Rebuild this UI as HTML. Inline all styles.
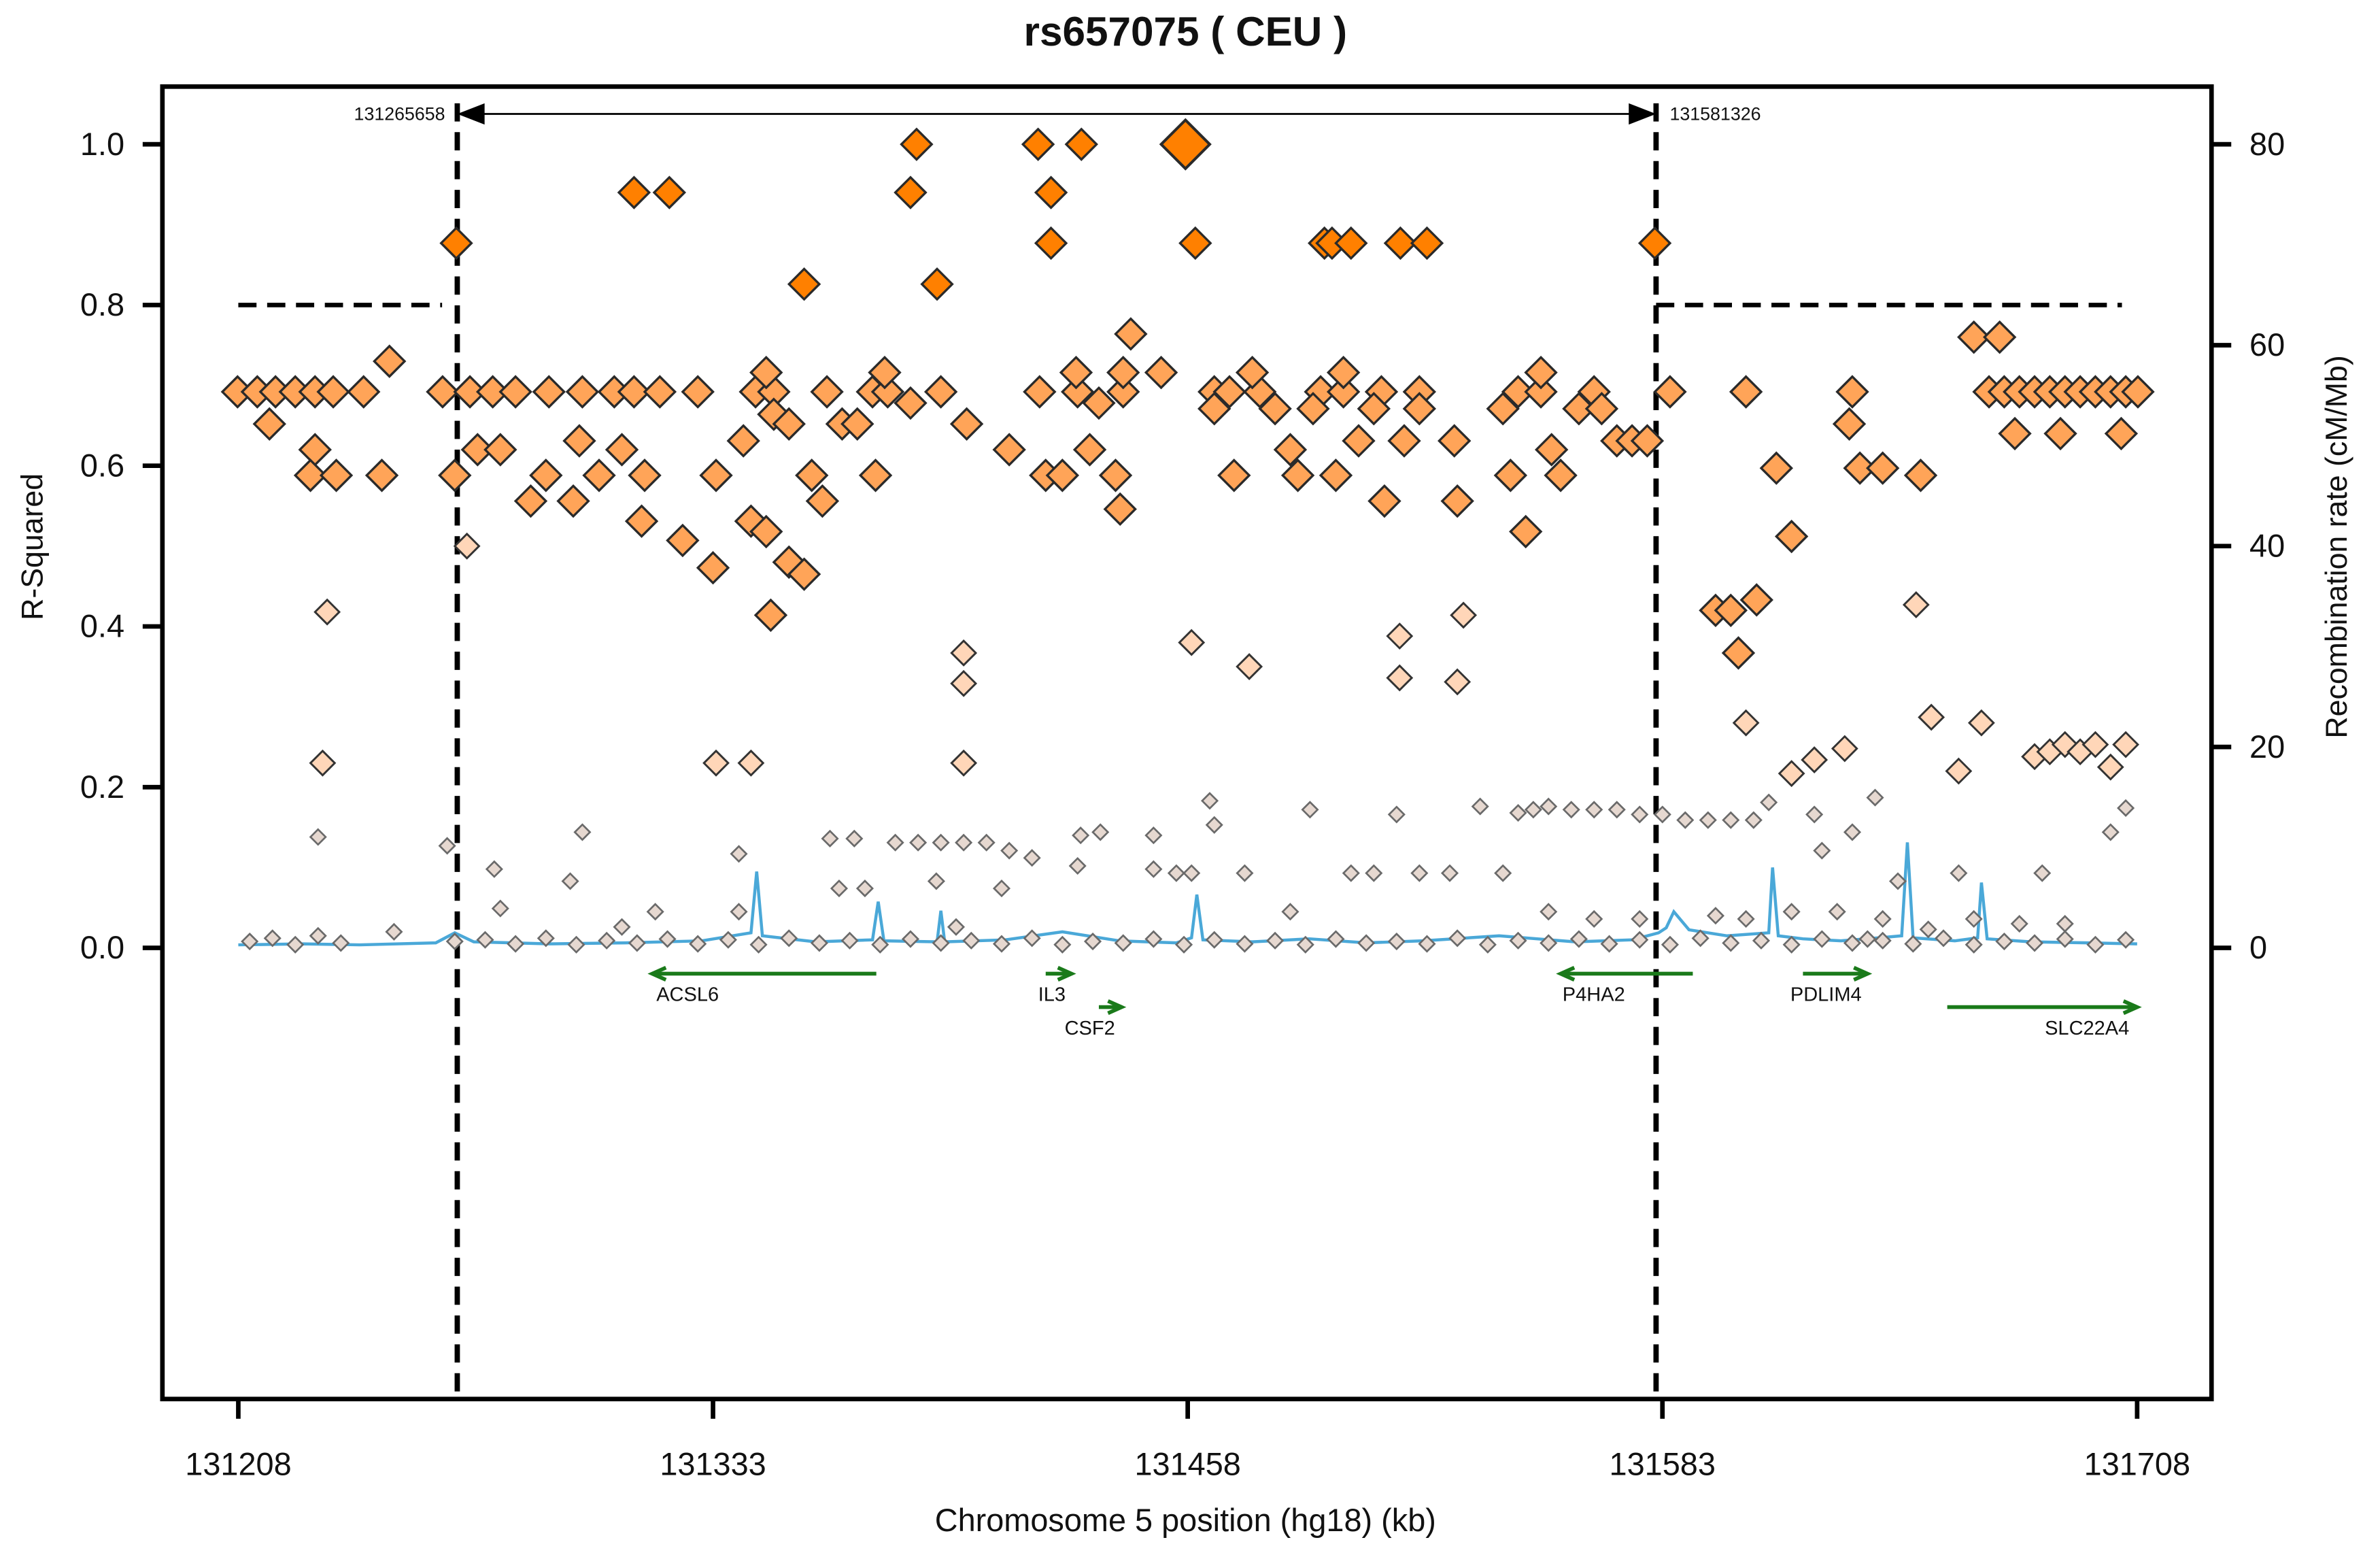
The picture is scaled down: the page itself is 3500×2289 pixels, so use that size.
<!DOCTYPE html>
<html><head><meta charset="utf-8">
<style>
html,body{margin:0;padding:0;background:#fff;}
svg{display:block;}
text{font-family:"Liberation Sans",sans-serif;fill:#111;}
</style></head>
<body>
<svg id="chart" width="3500" height="2289" viewBox="0 0 1568 1025" preserveAspectRatio="none" xmlns="http://www.w3.org/2000/svg">
<text x="781" y="30" font-size="27" font-weight="bold" text-anchor="middle">rs657075 ( CEU )</text>
<rect x="107" y="57" width="1350" height="864" fill="none" stroke="#000" stroke-width="3"/>
<g id="axes"></g>
<g id="recomb"></g>
<g id="points"></g>
<g id="genes"></g>
<text transform="translate(28,360) rotate(-90)" font-size="20" text-anchor="middle">R-Squared</text>
<text transform="translate(1546,360) rotate(-90)" font-size="20" text-anchor="middle">Recombination rate (cM/Mb)</text>
<text x="781" y="1008" font-size="21" text-anchor="middle">Chromosome 5 position (hg18) (kb)</text>
</svg>
<script>
// ---- data ----
const xTicks = [131208, 131333, 131458, 131583, 131708];
const yTicks = [0.0, 0.2, 0.4, 0.6, 0.8, 1.0];
const y2Ticks = [0, 20, 40, 60, 80];
const boundLeft = 131265.658, boundRight = 131581.326;
const hiKb = [131265.4,131312.2,131321.5,131386.6,131385,131392,131357,131418.6,131430,131422,131422,131460,131494,131496,131501,131514,131521,131581];
const hiR  = [0.877,0.94,0.94,1.0,0.94,0.826,0.826,1.0,1.0,0.94,0.877,0.877,0.877,0.877,0.877,0.877,0.877,0.877];
const leadKb = [131457.4];
const leadR = [1.0];
const midKb = [131207.8,131213,131217.8,131223,131228.2,131233,131241,131261.8,131269,131275,131281,131289.8,131298.6,131307,131312.2,131319,131329,131344.2,131349,131363,131375,131379,131393,131419,131429,131441,131465,131469,131477,131493,131499,131509,131519,131545,131551,131565,131585,131605,131633,131669,131673,131677,131681,131685,131689,131693,131697,131701,131705,131708.2,
 131216.2,131247.8,131228.2,131227,131233.8,131245.8,131265,131271,131277,131285,131289,131296.2,131297.8,131303,131309,131315,131314.2,131325,131333,131341,131333.8,131347,131349,131353,131343,131347,131353,131357,131348.2,131359,131361.8,131367,131371,131375.8,131378.2,131385,131399.8,131411,131420.6,131425,131428.6,131432.2,131434.6,131439,131440.2,131441,131443,131451,131465,131470.2,131475,131481,131485,131487,131491,131497,131499,131503,131507,131509.8,131515,131519,131528.2,131529,131541,131543,131547,131551,131553.8,131556.2,131561,131567,131571,131575,131579,131597,131601,131607.8,131603,131613,131617,131632.2,131635,131641,131651,131665,131671.8,131675.8,131687.8,131703.8];
const midR = [0.692,0.692,0.692,0.692,0.692,0.692,0.692,0.692,0.692,0.692,0.692,0.692,0.692,0.692,0.692,0.692,0.692,0.692,0.692,0.692,0.692,0.692,0.692,0.692,0.692,0.692,0.692,0.692,0.692,0.692,0.692,0.692,0.692,0.692,0.692,0.692,0.692,0.692,0.692,0.692,0.692,0.692,0.692,0.692,0.692,0.692,0.692,0.692,0.692,0.692,
 0.652,0.73,0.62,0.588,0.588,0.588,0.588,0.62,0.62,0.556,0.588,0.556,0.631,0.588,0.62,0.588,0.531,0.507,0.473,0.631,0.588,0.716,0.664,0.652,0.531,0.518,0.48,0.465,0.414,0.588,0.556,0.652,0.652,0.588,0.716,0.678,0.652,0.62,0.588,0.588,0.716,0.62,0.678,0.588,0.546,0.716,0.764,0.716,0.671,0.588,0.716,0.671,0.62,0.588,0.671,0.588,0.716,0.631,0.671,0.556,0.631,0.671,0.631,0.556,0.671,0.588,0.518,0.716,0.62,0.588,0.671,0.671,0.631,0.631,0.631,0.42,0.42,0.433,0.367,0.597,0.512,0.652,0.597,0.597,0.588,0.76,0.76,0.64,0.64,0.64];
const lightKb = [131231.4,131230.2,131268.2,131333.8,131343,131399,131399,131399,131459,131474.2,131513.8,131513.8,131529,131530.6,131605,131617,131623,131631,131653.8,131649.8,131661,131667,131681,131685,131689,131693,131697,131701,131705];
const lightR = [0.418,0.23,0.5,0.23,0.23,0.367,0.329,0.23,0.38,0.35,0.388,0.336,0.331,0.414,0.28,0.217,0.234,0.248,0.287,0.427,0.22,0.28,0.238,0.244,0.253,0.244,0.253,0.225,0.253];
const lowKb = [131211,131217,131223,131229,131235,131249,131265,131273,131281,131289,131297,131305,131313,131321,131329,131337,131345,131353,131361,131369,131377,131385,131393,131401,131409,131417,131425,131433,131441,131449,131457,131465,131473,131481,131489,131497,131505,131513,131521,131529,131537,131545,131553,131561,131569,131577,131585,131593,131601,131609,131617,131625,131633,131641,131649,131657,131665,131673,131681,131689,131697,131705,
 131229,131263,131275.4,131298.6,131295.4,131277,131309,131317.8,131339.8,131339.8,131363.8,131370.2,131366.2,131373,131381,131387,131393,131399,131405,131411,131417,131391.8,131409,131397,131429.8,131435,131449,131429,131449,131455,131463.8,131465,131459,131473,131490.2,131485,131501,131507,131513,131519,131527,131535,131541,131545,131549,131553,131559,131565,131571,131577,131583,131589,131595,131601,131607,131611,131623,131633,131639,131625,131645,131661,131683,131701,131705,131597,131605,131617,131629,131641,131665,131677,131689,131553,131565,131577,131637,131653];
const lowR = [0.008,0.012,0.004,0.015,0.006,0.02,0.008,0.01,0.005,0.012,0.004,0.009,0.006,0.011,0.005,0.01,0.004,0.012,0.006,0.009,0.004,0.011,0.006,0.009,0.005,0.012,0.004,0.008,0.006,0.011,0.004,0.01,0.005,0.009,0.004,0.011,0.006,0.008,0.005,0.012,0.004,0.009,0.006,0.011,0.005,0.01,0.004,0.012,0.006,0.009,0.004,0.011,0.006,0.009,0.005,0.012,0.004,0.008,0.006,0.011,0.004,0.01,
 0.138,0.127,0.098,0.144,0.083,0.049,0.026,0.045,0.117,0.045,0.136,0.136,0.074,0.074,0.131,0.131,0.131,0.131,0.131,0.121,0.112,0.083,0.074,0.026,0.140,0.144,0.140,0.102,0.098,0.093,0.183,0.153,0.093,0.093,0.172,0.045,0.093,0.093,0.166,0.093,0.093,0.176,0.093,0.168,0.172,0.176,0.172,0.172,0.172,0.166,0.166,0.159,0.159,0.159,0.159,0.181,0.166,0.144,0.187,0.121,0.083,0.093,0.093,0.144,0.174,0.04,0.036,0.045,0.045,0.036,0.036,0.030,0.030,0.045,0.036,0.036,0.011,0.023];
const recKb = [131208,131225,131240,131260,131265,131270,131290,131310,131330,131343,131344.5,131346,131360,131375,131376.5,131378,131392,131393,131394,131410,131425,131440,131455,131459,131460.4,131462,131475,131490,131505,131520,131540,131560,131575,131582,131584,131586,131590,131600,131611,131612,131613.5,131620,131630,131640,131646,131647.5,131649,131660,131666,131667,131668.5,131680,131695,131708];
const recCM = [0.3,0.4,0.3,0.5,1.5,0.6,0.4,0.5,0.7,1.5,7.6,1.2,0.6,0.8,4.6,0.7,0.6,3.7,0.6,0.8,1.6,0.7,0.5,1.0,5.3,0.8,0.6,0.9,0.5,0.7,1.2,0.6,0.8,1.5,2.0,3.6,1.8,1.2,1.5,8.0,1.2,0.9,0.7,1.0,1.2,10.5,1.0,0.7,1.0,6.5,0.9,0.6,0.5,0.4];
const geneNames = ["ACSL6","IL3","CSF2","P4HA2","PDLIM4","SLC22A4"];
const geneStart = [131376,131420.6,131434.6,131591,131620,131658];
const geneEnd   = [131317,131427.4,131440.6,131556.2,131637,131708];
const geneRow   = [0,0,1,0,0,1];

// ---- scales ----
const NS="http://www.w3.org/2000/svg";
const X0=157, X1=1408, Y0=624, Y1=95;
function sx(kb){return X0+(kb-131208)*(X1-X0)/500;}
function sy(r){return Y0-r*(Y0-Y1);}
function sy2(c){return Y0-c*(Y0-Y1)/80;}
function mk(tag,attrs,parent){const e=document.createElementNS(NS,tag);for(const k in attrs)e.setAttribute(k,attrs[k]);parent.appendChild(e);return e;}
const axes=document.getElementById('axes');

mk('line',{x1:sx(xTicks[0]),x2:sx(xTicks[xTicks.length-1]),y1:921,y2:921,stroke:'#000','stroke-width':2},axes);
xTicks.forEach(t=>{
  const l=mk('line',{x1:sx(t),x2:sx(t),y1:921,y2:934,stroke:'#000','stroke-width':3},axes);
  
  
  const tx=mk('text',{x:sx(t),y:971,'font-size':21,'text-anchor':'middle'},axes);
  tx.textContent=t;
  
  
});
yTicks.forEach(t=>{
  const l=mk('line',{x1:94,x2:107,y1:sy(t),y2:sy(t),stroke:'#000','stroke-width':3},axes);
  
  
  const tx=mk('text',{x:82,y:sy(t)+7,'font-size':21,'text-anchor':'end'},axes);
  tx.textContent=t.toFixed(1);
  
  
});
y2Ticks.forEach(t=>{
  const l=mk('line',{x1:1457,x2:1470,y1:sy2(t),y2:sy2(t),stroke:'#000','stroke-width':3},axes);
  
  
  const tx=mk('text',{x:1482,y:sy2(t)+7,'font-size':21,'text-anchor':'start'},axes);
  tx.textContent=t;
  
  
});
[boundLeft,boundRight].forEach(b=>{
  const l=mk('line',{x1:sx(b),x2:sx(b),y1:68,y2:921,stroke:'#000','stroke-width':3.5,'stroke-dasharray':'12,7'},axes);
  
  
});
const h1=mk('line',{x1:sx(131208),x2:sx(boundLeft)-10,y1:sy(0.8),y2:sy(0.8),stroke:'#000','stroke-width':3,'stroke-dasharray':'12,7'},axes);


const h2=mk('line',{x1:sx(boundRight),x2:sx(131704),y1:sy(0.8),y2:sy(0.8),stroke:'#000','stroke-width':3,'stroke-dasharray':'12,7'},axes);


const ar=mk('line',{x1:sx(boundLeft)+8,x2:sx(boundRight)-8,y1:75,y2:75,stroke:'#000','stroke-width':1.2},axes);


const ah1=mk('polygon',{points:`${sx(boundLeft)},75 ${sx(boundLeft)+18},68 ${sx(boundLeft)+18},82`,fill:'#000'},axes);


const ah2=mk('polygon',{points:`${sx(boundRight)},75 ${sx(boundRight)-18},68 ${sx(boundRight)-18},82`,fill:'#000'},axes);


const bl1=mk('text',{x:sx(boundLeft)-8,y:79,'font-size':12,'text-anchor':'end'},axes);
bl1.textContent='131265658';


const bl2=mk('text',{x:sx(boundRight)+9,y:79,'font-size':12,'text-anchor':'start'},axes);
bl2.textContent='131581326';



const pg=document.getElementById('points');
function diamond(kb,r,h,fill,stroke,sw,name){
  const x=sx(kb),y=sy(r);
  const p=mk('polygon',{points:`${x},${y-h} ${x+h},${y} ${x},${y+h} ${x-h},${y}`,fill:fill,stroke:stroke,'stroke-width':sw},pg);
  
  
}
lowKb.forEach((k,i)=>diamond(k,lowR[i],5,'#e6d8d0','#6a6a6a',1.2,'snp-low-ld'));
const rg=document.getElementById('recomb');
const rp=mk('polyline',{points:recKb.map((k,i)=>sx(k)+','+sy2(recCM[i])).join(' '),fill:'none',stroke:'#4aa8d8','stroke-width':2},rg);


lightKb.forEach((k,i)=>diamond(k,lightR[i],8,'#ffd6b8','#333',1.3,'snp-weak-ld'));
midKb.forEach((k,i)=>diamond(k,midR[i],10,'#ffa458','#2a2a2a',1.5,'snp-moderate-ld'));
hiKb.forEach((k,i)=>diamond(k,hiR[i],10,'#ff8000','#2a2a2a',1.5,'snp-high-ld'));
leadKb.forEach((k,i)=>diamond(k,leadR[i],16,'#ff8000','#2a2a2a',1.8,'lead-snp'));

const gg=document.getElementById('genes');
geneNames.forEach((n,i)=>{
  const y=geneRow[i]?663:641;
  const a=sx(geneStart[i]),b=sx(geneEnd[i]);
  const dir=b>a?1:-1;
  const l=mk('line',{x1:a,x2:b,y1:y,y2:y,stroke:'#1a7a1a','stroke-width':2.5},gg);
  
  
  const h=mk('polyline',{points:`${b-dir*9},${y-4} ${b},${y} ${b-dir*9},${y+4}`,fill:'none',stroke:'#1a7a1a','stroke-width':2.5},gg);
  
  
  let lx=(a+b)/2;
  if(n==='ACSL6')lx=453; if(n==='P4HA2')lx=1050; if(n==='SLC22A4')lx=1375; if(n==='PDLIM4')lx=1203; if(n==='IL3')lx=693; if(n==='CSF2')lx=718;
  const t=mk('text',{x:lx,y:y+18,'font-size':13,'text-anchor':'middle'},gg);
  t.textContent=n;
  
  
});
</script>
</body></html>
